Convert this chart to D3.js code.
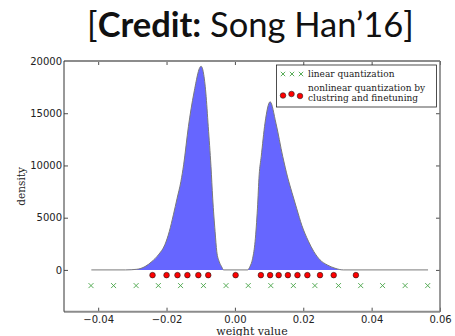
<!DOCTYPE html>
<html>
<head>
<meta charset="utf-8">
<script src="https://cdn.jsdelivr.net/npm/d3@7/dist/d3.min.js"></script>
<style>
  html, body { margin: 0; padding: 0; background: #fff; }
  svg { display: block; }
</style>
</head>
<body>
<div id="container"></div>
<script>
// values
const xTicks = [-0.04, -0.02, 0.00, 0.02, 0.04, 0.06]
const yTicks = [0, 5000, 10000, 15000, 20000]

// histogram outline (weight value, density)
const histX = [-0.042, -0.032, -0.0287, -0.0263, -0.0243, -0.0224, -0.0205, -0.0192, -0.0180, -0.0169, -0.0158, -0.0150, -0.0136, -0.0120, -0.0099,
               -0.0085, -0.0078, -0.0070, -0.0065, -0.0058, -0.0053, -0.0046, -0.0039, -0.0033,
               0.0037, 0.0044, 0.0052, 0.0059, 0.0066, 0.0071, 0.0077, 0.0088, 0.0103,
               0.0120, 0.0140, 0.0154, 0.0167, 0.0181, 0.0196, 0.0215, 0.0231, 0.0249, 0.0270, 0.0293, 0.0317, 0.0565]
const histY = [0, 0, 60, 320, 800, 1440, 2400, 3670, 5270, 6870, 8460, 10060, 13730, 16930, 19500,
               16930, 13730, 9900, 6870, 3670, 1750, 800, 320, 0,
               0, 320, 1120, 2710, 5910, 9100, 10850, 14050, 16100,
               14050, 10850, 8900, 7400, 5850, 4250, 2750, 1750, 960, 480, 160, 0, 0]

// 16 linear levels and 16 cluster centroids
const linearLevels = [-0.0421, -0.0355, -0.0289, -0.0224, -0.0159, -0.0092, -0.0026, 0.0039,
                      0.0105, 0.0171, 0.0234, 0.0303, 0.0368, 0.0432, 0.0498, 0.0564]
const linearY = -1500
const clusterCenters = [-0.0241, -0.0200, -0.0168, -0.0139, -0.0107, -0.0078, 0.0002, 0.0076,
                        0.0103, 0.0128, 0.0155, 0.0183, 0.0212, 0.0249, 0.0289, 0.0354]
const clusterY = -500

const legendLabels = ["linear quantization", ["nonlinear quantization by", "clustring and finetuning"]]

let w = 455, h = 336
let m = {left: 64, right: 15, top: 61, bottom: 24.3}

let svg = d3.select("#container").append("svg")
    .attr("width", w)
    .attr("height", h)

// title
let title = svg.append("text")
    .attr("x", 250.5)
    .attr("y", 37)
    .attr("text-anchor", "middle")
    .attr("font-family", "Lato, Carlito, sans-serif")
    .attr("font-size", 34.5)
    .attr("fill", "#111")
title.append("tspan").text("[")
title.append("tspan").attr("font-weight", "bold").text("Credit:")
title.append("tspan").text(" Song Han’16]")

let x = d3.scaleLinear()
    .domain([-0.05, 0.06])
    .range([m.left, w - m.right])

let y = d3.scaleLinear()
    .domain([-4000, 20000])
    .range([h - m.bottom, m.top])

let hist = histX.map((v, i) => ({x: v, y: histY[i]}))

let area = d3.area()
    .x(d => x(d.x))
    .y0(y(0))
    .y1(d => y(d.y))
    .curve(d3.curveMonotoneX)

let line = d3.line()
    .x(d => x(d.x))
    .y(d => y(d.y))
    .curve(d3.curveMonotoneX)

svg.append("path")
    .datum(hist)
    .attr("d", area)
    .attr("fill", "#6666ff")

svg.append("path")
    .datum(hist)
    .attr("d", line)
    .attr("fill", "none")
    .attr("stroke", "#7a7a7a")
    .attr("stroke-width", 1)

// linear quantization markers
function cross(g, cx, cy, s) {
    g.append("path")
        .attr("d", `M${cx - s},${cy - s}L${cx + s},${cy + s}M${cx - s},${cy + s}L${cx + s},${cy - s}`)
        .attr("stroke", "#47a447")
        .attr("stroke-width", 0.9)
        .attr("fill", "none")
}

let marks = svg.append("g")
linearLevels.forEach(v => cross(marks, x(v), y(linearY), 2.5))

marks.selectAll("circle")
    .data(clusterCenters)
    .join("circle")
    .attr("cx", d => x(d))
    .attr("cy", y(clusterY))
    .attr("r", 2.8)
    .attr("fill", "#ff0000")
    .attr("stroke", "#222")
    .attr("stroke-width", 0.6)

// axes with inward ticks
let fmtY = d3.format("d")
let fmtX = d3.format(".2f")

let ax = svg.append("g")
    .attr("transform", `translate(0,${h - m.bottom})`)
    .call(d3.axisBottom(x).tickValues(xTicks).tickFormat(fmtX).tickSizeInner(-4).tickSizeOuter(0).tickPadding(4))
let ay = svg.append("g")
    .attr("transform", `translate(${m.left},0)`)
    .call(d3.axisLeft(y).tickValues(yTicks).tickFormat(fmtY).tickSizeInner(-4).tickSizeOuter(0).tickPadding(2))
let at = svg.append("g")
    .attr("transform", `translate(0,${m.top})`)
    .call(d3.axisTop(x).tickValues(xTicks).tickFormat("").tickSizeInner(-4).tickSizeOuter(0))
let ar = svg.append("g")
    .attr("transform", `translate(${w - m.right},0)`)
    .call(d3.axisRight(y).tickValues(yTicks).tickFormat("").tickSizeInner(-4).tickSizeOuter(0))

;[ax, ay, at, ar].forEach(g => {
    g.select(".domain").remove()
    g.selectAll(".tick line").attr("stroke", "#222").attr("stroke-width", 0.8)
    g.selectAll(".tick text")
        .attr("font-family", "DejaVu Sans, sans-serif")
        .attr("font-size", 10)
        .attr("fill", "#222")
})

// spines
svg.append("line").attr("x1", x(-0.05)).attr("x2", x(0.06)).attr("y1", m.top).attr("y2", m.top)
    .attr("stroke", "#8c8c8c").attr("stroke-width", 2)
svg.append("line").attr("x1", x(-0.05)).attr("x2", x(0.06)).attr("y1", h - m.bottom).attr("y2", h - m.bottom)
    .attr("stroke", "#8c8c8c").attr("stroke-width", 2)
svg.append("line").attr("x1", m.left).attr("x2", m.left).attr("y1", m.top).attr("y2", h - m.bottom)
    .attr("stroke", "#333").attr("stroke-width", 1)
svg.append("line").attr("x1", w - m.right).attr("x2", w - m.right).attr("y1", m.top).attr("y2", h - m.bottom)
    .attr("stroke", "#777").attr("stroke-width", 1.5)

// axis labels
svg.append("text")
    .text("weight value")
    .attr("x", (m.left + w - m.right) / 2)
    .attr("y", 334.5)
    .attr("text-anchor", "middle")
    .attr("font-family", "DejaVu Serif, serif")
    .attr("font-size", 11)
    .attr("fill", "#222")

svg.append("text")
    .text("density")
    .attr("transform", `translate(25,${(m.top + h - m.bottom) / 2}) rotate(-90)`)
    .attr("text-anchor", "middle")
    .attr("font-family", "DejaVu Serif, serif")
    .attr("font-size", 10.5)
    .attr("fill", "#222")

// legend
let lg = svg.append("g")
lg.append("rect")
    .attr("x", 276.5).attr("y", 65)
    .attr("width", 160).attr("height", 42)
    .attr("fill", "#fff")
    .attr("stroke", "#222")
    .attr("stroke-width", 0.8)

;[283, 292, 301].forEach(cx => cross(lg, cx, 74, 2.2))
;[[283, 95.5], [291.5, 94], [300, 96]].forEach(p => {
    lg.append("circle")
        .attr("cx", p[0]).attr("cy", p[1]).attr("r", 2.8)
        .attr("fill", "#ff0000").attr("stroke", "#222").attr("stroke-width", 0.6)
})

let lt = lg.append("g")
    .attr("font-family", "DejaVu Serif, serif")
    .attr("font-size", 9)
    .attr("fill", "#222")
lt.append("text").attr("x", 308).attr("y", 77).text(legendLabels[0])
lt.append("text").attr("x", 308).attr("y", 90.5).text(legendLabels[1][0])
lt.append("text").attr("x", 308).attr("y", 101).text(legendLabels[1][1])
</script>
</body>
</html>
